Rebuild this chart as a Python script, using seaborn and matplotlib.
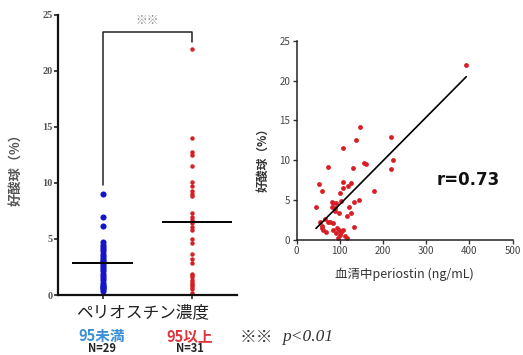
import matplotlib
matplotlib.use('Agg')
import matplotlib.pyplot as plt
import pandas as pd
import seaborn as sns

# left panel: eosinophil % by periostin group
low_vals = [9.0, 7.0, 6.2, 4.7, 4.5, 4.3, 4.1, 3.9, 3.7, 3.5, 3.3, 3.1, 3.0, 2.9,
            2.7, 2.5, 2.3, 2.1, 1.9, 1.7, 1.5, 1.3, 1.1, 0.9, 0.8, 0.7, 0.6, 0.5, 0.4]
high_vals = [22.0, 14.0, 12.8, 12.5, 11.5, 10.1, 9.7, 9.3, 9.0, 8.8, 7.3, 7.0, 6.7,
             6.4, 6.1, 5.8, 5.0, 4.6, 3.7, 3.2, 2.9, 1.9, 1.8, 1.6, 1.3, 1.2, 1.0,
             0.9, 0.7, 0.5, 0.15]
group_names = ['95未満', '95以上']
group_n = ['N=29', 'N=31']
medians = [2.9, 6.5]

# right panel: serum periostin vs eosinophil %
periostin = [393, 147, 137, 108, 218, 224, 157, 160, 130, 218, 72, 107, 127, 120,
             53, 59, 100, 179, 108, 45, 81, 85, 91, 104, 133, 145, 81, 89, 122,
             99, 127, 116, 54, 66, 72, 77, 85, 58, 60, 62, 69, 85, 94, 91, 99,
             104, 108, 133, 96, 116, 100, 113, 88]
eosino = [22.0, 14.2, 12.6, 11.5, 12.9, 10.1, 9.7, 9.5, 9.0, 8.9, 9.1, 7.3, 7.2,
          6.8, 7.0, 6.2, 5.9, 6.1, 6.5, 4.2, 4.8, 4.7, 4.7, 4.9, 4.8, 5.0, 4.2,
          4.0, 4.1, 3.4, 3.4, 3.0, 2.3, 2.6, 2.2, 2.3, 2.1, 1.8, 1.5, 1.2, 1.0,
          1.3, 1.5, 0.9, 1.2, 1.0, 1.2, 1.6, 0.2, 0.2, 0.6, 0.5, 3.6]
fit_x = [45, 393]
fit_y = [1.45, 20.5]

sns.set_style('ticks')
plt.rcParams['font.family'] = ['Noto Sans CJK JP', 'DejaVu Sans']

fig = plt.figure(figsize=(5.23, 3.55), dpi=100)
ax1 = fig.add_axes([0.111, 0.169, 0.342, 0.789])
ax2 = fig.add_axes([0.567, 0.324, 0.413, 0.561])

df = pd.DataFrame({
    'group': [group_names[0]] * len(low_vals) + [group_names[1]] * len(high_vals),
    'value': low_vals + high_vals,
})
sns.stripplot(data=df[df.group == group_names[0]], x='group', y='value',
              order=group_names, jitter=False, color='#1414c8', size=4.4,
              linewidth=0, ax=ax1, clip_on=False, zorder=2)
sns.stripplot(data=df[df.group == group_names[1]], x='group', y='value',
              order=group_names, jitter=False, color='#d81e24', size=3.2,
              linewidth=0, ax=ax1, clip_on=False, zorder=2)
ax1.hlines(medians[0], -0.34, 0.34, color='black', lw=1.4, zorder=3)
ax1.hlines(medians[1], 0.66, 1.45, color='black', lw=1.4, zorder=3)

# significance bracket
ax1.plot([0, 0, 1, 1], [9.8, 23.5, 23.5, 22.6], color='#222222', lw=1.1)
ax1.text(0.5, 23.9, '※※', ha='center', va='bottom', fontsize=8.5, color='#888888')

ax1.set_xlim(-0.5, 1.5)
ax1.set_ylim(0, 25)
ax1.set_yticks([0, 5, 10, 15, 20, 25])
ax1.set_xticks([0, 1])
ax1.set_xticklabels(['', ''])
ax1.tick_params(axis='y', length=3, width=1.2, labelsize=7.5, colors='#222222', pad=1)
ax1.tick_params(axis='x', length=3, width=1.2)
for lab in ax1.get_yticklabels():
    lab.set_family('Liberation Serif')
    lab.set_weight('bold')
    lab.set_color('#555555')
for s in ['left', 'bottom']:
    ax1.spines[s].set_linewidth(1.6)
    ax1.spines[s].set_color('#111111')
sns.despine(ax=ax1)
ax1.set_xlabel('')
ax1.set_ylabel('好酸球（%）', fontsize=9.5, color='#555555', weight='bold')
ax1.yaxis.set_label_coords(-0.20, 0.46)

# labels below left panel
fig.text(143 / 523, 1 - 313 / 355, 'ペリオスチン濃度', ha='center', va='center',
         fontsize=12, color='#222222')
fig.text(102 / 523, 1 - 336 / 355, group_names[0], ha='center', va='center',
         fontsize=10.5, color='#3a8fd6', weight='bold')
fig.text(190 / 523, 1 - 336 / 355, group_names[1], ha='center', va='center',
         fontsize=10.5, color='#e0353a', weight='bold')
fig.text(102 / 523, 1 - 349 / 355, group_n[0], ha='center', va='center',
         fontsize=8, color='#222222', weight='bold')
fig.text(190 / 523, 1 - 349 / 355, group_n[1], ha='center', va='center',
         fontsize=8, color='#222222', weight='bold')
fig.text(240 / 523, 1 - 337 / 355, '※※', ha='left', va='center',
         fontsize=12, color='#333333')
fig.text(282 / 523, 1 - 337 / 355, 'p<0.01', ha='left', va='center',
         fontsize=12.5, color='#333333', family='Liberation Serif', style='italic')

# right panel
sns.scatterplot(x=periostin, y=eosino, color='#d81e24', s=12, linewidth=0,
                ax=ax2, clip_on=False, zorder=2)
sns.lineplot(x=fit_x, y=fit_y, color='black', lw=1.2, ax=ax2, zorder=3)
ax2.set_xlim(0, 500)
ax2.set_ylim(0, 25)
ax2.set_xticks([0, 100, 200, 300, 400, 500])
ax2.set_yticks([0, 5, 10, 15, 20, 25])
ax2.tick_params(length=3, width=1, labelsize=7, colors='#333333', labelcolor='#444444', pad=1.5)
for s in ['left', 'bottom']:
    ax2.spines[s].set_linewidth(1.1)
    ax2.spines[s].set_color('#222222')
sns.despine(ax=ax2)
ax2.set_xlabel('血清中periostin (ng/mL)', fontsize=9, color='#333333')
ax2.xaxis.set_label_coords(0.5, -0.14)
ax2.set_ylabel('好酸球（%）', fontsize=8.5, color='#333333', weight='bold')
ax2.yaxis.set_label_coords(-0.124, 0.417)
ax2.text(437 / 523, 1 - 180 / 355, 'r=0.73', transform=fig.transFigure,
         ha='left', va='center', fontsize=12, color='#111111',
         family='DejaVu Sans', weight='bold')

fig.savefig('out.png', dpi=100)
